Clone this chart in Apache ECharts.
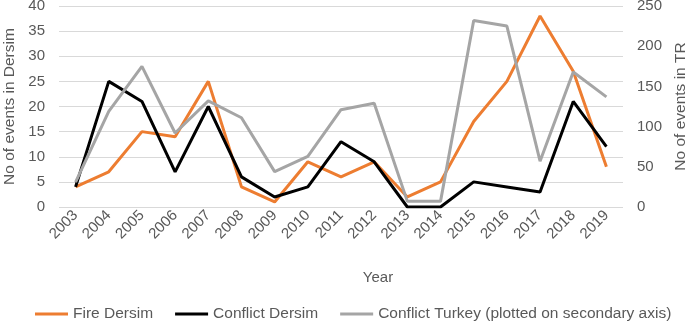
<!DOCTYPE html>
<html>
<head>
<meta charset="utf-8">
<script src="https://cdn.jsdelivr.net/npm/echarts@6/dist/echarts.min.js"></script>
<style>
  html, body { margin: 0; padding: 0; background: #fff; }
  #chart { width: 685px; height: 321px; }
</style>
</head>
<body>
<div id="chart"></div>
<script>
const years = ['2003', '2004', '2005', '2006', '2007', '2008', '2009', '2010', '2011', '2012', '2013', '2014', '2015', '2016', '2017', '2018', '2019'];
const fireDersim = [4, 7, 15, 14, 25, 4, 1, 9, 6, 9, 2, 5, 17, 25, 38, 27, 8];
const conflictDersim = [4, 25, 21, 7, 20, 6, 2, 4, 13, 9, 0, 0, 5, 4, 3, 21, 12];
const conflictTurkey = [31, 119, 175, 92, 132, 111, 44, 63, 121, 129, 7, 7, 232, 225, 57, 168, 137];

const textColor = '#595959';
const font = 'Liberation Sans, Arial, sans-serif';

const chart = echarts.init(document.getElementById('chart'));

const option = {
    animation: false,
    grid: {
        left: 59,
        right: 62,
        top: 6,
        bottom: 114,
        containLabel: false,
        outerBoundsMode: 'none'
    },
    legend: {
        top: 301,
        left: 30,
        itemWidth: 33,
        itemHeight: 3,
        itemGap: 22,
        icon: 'rect',
        textStyle: { color: textColor, fontSize: 15.5, fontFamily: font },
        data: ['Fire Dersim', 'Conflict Dersim', 'Conflict Turkey (plotted on secondary axis)']
    },
    xAxis: {
        type: 'category',
        data: years,
        name: 'Year',
        nameLocation: 'middle',
        nameGap: 63,
        nameTextStyle: { color: textColor, fontSize: 15, fontFamily: font, padding: [0, 0, 0, 74] },
        axisTick: { show: false },
        axisLine: { show: false },
        axisLabel: {
            interval: 0,
            rotate: 45,
            color: textColor,
            fontSize: 15,
            fontFamily: font,
            margin: 6
        }
    },
    yAxis: [
        {
            type: 'value',
            min: 0,
            max: 40,
            interval: 5,
            name: 'No of events in Dersim',
            nameLocation: 'middle',
            nameGap: 40,
            nameTextStyle: { color: textColor, fontSize: 15.5, fontFamily: font },
            axisLabel: { color: textColor, fontSize: 15, fontFamily: font, margin: 14 },
            splitLine: { lineStyle: { color: '#d9d9d9', width: 1 } },
            axisLine: { show: false },
            axisTick: { show: false }
        },
        {
            type: 'value',
            min: 0,
            max: 250,
            interval: 50,
            name: 'No of events in TR',
            nameLocation: 'middle',
            nameGap: 47,
            nameRotate: 90,
            nameTextStyle: { color: textColor, fontSize: 15.5, fontFamily: font },
            axisLabel: { color: textColor, fontSize: 15, fontFamily: font, margin: 14 },
            splitLine: { show: false },
            axisLine: { show: false },
            axisTick: { show: false }
        }
    ],
    series: [
        {
            name: 'Fire Dersim',
            type: 'line',
            data: fireDersim,
            symbol: 'none',
            lineStyle: { color: '#ED7D31', width: 3 },
            itemStyle: { color: '#ED7D31' },
            z: 2
        },
        {
            name: 'Conflict Dersim',
            type: 'line',
            data: conflictDersim,
            symbol: 'none',
            lineStyle: { color: '#000000', width: 3 },
            itemStyle: { color: '#000000' },
            z: 3
        },
        {
            name: 'Conflict Turkey (plotted on secondary axis)',
            type: 'line',
            yAxisIndex: 1,
            data: conflictTurkey,
            symbol: 'none',
            lineStyle: { color: '#A5A5A5', width: 3 },
            itemStyle: { color: '#A5A5A5' },
            z: 4
        }
    ]
};

chart.setOption(option);
</script>
</body>
</html>
